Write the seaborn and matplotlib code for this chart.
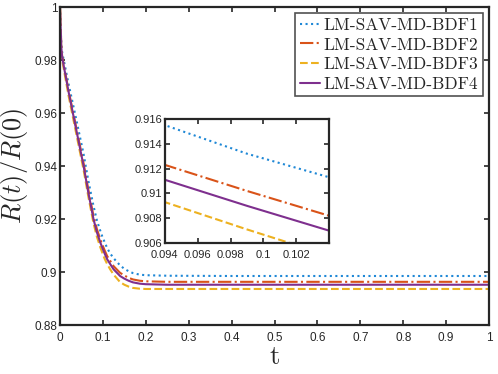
import matplotlib
matplotlib.use('Agg')
import matplotlib.pyplot as plt
import seaborn as sns
import numpy as np
import pandas as pd
from matplotlib.ticker import FuncFormatter

sns.set_style('ticks')
plt.rcParams['font.family'] = ['Liberation Sans', 'DejaVu Sans']
plt.rcParams['mathtext.fontset'] = 'cm'

# data
t = [0, 0.003, 0.005, 0.02, 0.04, 0.055, 0.066, 0.078, 0.086, 0.094, 0.099, 0.104,
     0.11, 0.117, 0.125, 0.14, 0.15, 0.16, 0.17, 0.186, 0.2, 0.25, 0.4, 0.6, 0.8, 1.0]
bdf1 = [1.0, 0.986, 0.983, 0.971, 0.956, 0.9445, 0.9345, 0.925, 0.9195, 0.9155, 0.9132, 0.9113,
        0.9090, 0.9070, 0.9052, 0.9025, 0.9012, 0.9003, 0.8996, 0.8990, 0.8988, 0.8986,
        0.8985, 0.8985, 0.8985, 0.8985]
bdf2 = [1.0, 0.9855, 0.9815, 0.9685, 0.9528, 0.9410, 0.9311, 0.9212, 0.9162, 0.9123, 0.9102, 0.9082,
        0.9060, 0.9042, 0.9022, 0.8997, 0.8987, 0.8978, 0.8972, 0.8967, 0.8965, 0.8963,
        0.8963, 0.8963, 0.8963, 0.8963]
bdf3 = [1.0, 0.984, 0.980, 0.9665, 0.9505, 0.9385, 0.9285, 0.9185, 0.9133, 0.9093, 0.9071, 0.9050,
        0.9030, 0.9010, 0.8990, 0.8962, 0.8952, 0.8945, 0.8940, 0.8937, 0.8936, 0.8936,
        0.8936, 0.8936, 0.8936, 0.8936]
bdf4 = [1.0, 0.985, 0.981, 0.968, 0.952, 0.940, 0.930, 0.920, 0.9150, 0.9111, 0.9090, 0.9070,
        0.9048, 0.9030, 0.9010, 0.8985, 0.8975, 0.8967, 0.8961, 0.8956, 0.8954, 0.8952,
        0.8952, 0.8952, 0.8952, 0.8952]
names = ['LM-SAV-MD-BDF1', 'LM-SAV-MD-BDF2', 'LM-SAV-MD-BDF3', 'LM-SAV-MD-BDF4']
colors = ['#1f88d6', '#D95319', '#EDB120', '#7E2F8E']
styles = [':', '-.', '--', '-']

series = [bdf1, bdf2, bdf3, bdf4]


def style_axes(ax, size, xpad):
    for s in ax.spines.values():
        s.set_linewidth(1.6)
        s.set_color('#262626')
    ax.tick_params(direction='in', top=True, right=True, length=3.5, width=1.2,
                   labelsize=size, colors='#262626', pad=2)
    ax.tick_params(axis='x', pad=xpad)
    ax.xaxis.set_major_formatter(FuncFormatter(lambda v, p: '{:g}'.format(round(v, 4))))
    ax.yaxis.set_major_formatter(FuncFormatter(lambda v, p: '{:g}'.format(round(v, 4))))


fig = plt.figure(figsize=(4.98, 3.74), dpi=100)
ax = fig.add_axes([0.1205, 0.131, 0.8615, 0.85])
for vals, name, c, ls in zip(series, names, colors, styles):
    sns.lineplot(x=t, y=vals, ax=ax, color=c, linestyle=ls, linewidth=1.5, label=name)
ax.set_xlim(0, 1)
ax.set_ylim(0.88, 1)
ax.set_xticks(np.arange(0, 1.01, 0.1))
ax.set_yticks([0.88, 0.9, 0.92, 0.94, 0.96, 0.98, 1])
style_axes(ax, 8.5, 5)
ax.set_xlabel('t', family='cmr10', fontsize=19, labelpad=1)
ax.set_ylabel('$R(t)/R(0)$', fontsize=19, labelpad=3)
leg = ax.legend(loc='upper right', prop={'family': 'cmr10', 'size': 12.5}, frameon=True,
                fancybox=False, borderaxespad=0.35, handlelength=1.2, handletextpad=0.2,
                labelspacing=0.25, borderpad=0.25)
leg.get_frame().set_edgecolor('#262626')
leg.get_frame().set_linewidth(1.2)

ins = fig.add_axes([0.331, 0.350, 0.330, 0.332])
for vals, c, ls in zip(series, colors, styles):
    sns.lineplot(x=t, y=vals, ax=ins, color=c, linestyle=ls, linewidth=1.5)
ins.set_xlim(0.094, 0.104)
ins.set_ylim(0.906, 0.916)
ins.set_xticks([0.094, 0.096, 0.098, 0.1, 0.102])
ins.set_yticks([0.906, 0.908, 0.91, 0.912, 0.914, 0.916])
style_axes(ins, 8, 5)
ins.set_xlabel('')
ins.set_ylabel('')

fig.savefig('out.png', dpi=100)
